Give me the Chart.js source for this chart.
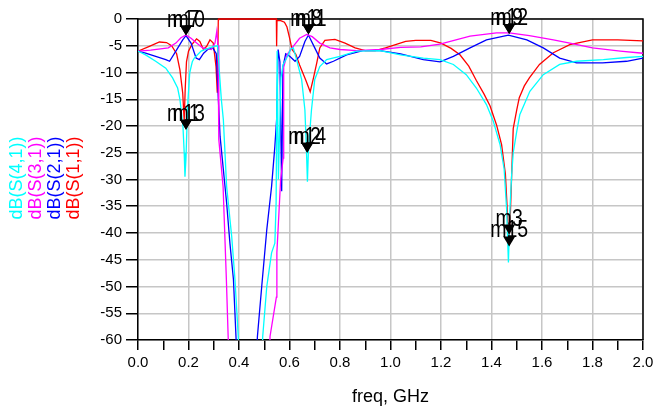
<!DOCTYPE html>
<html>
<head>
<meta charset="utf-8">
<script src="https://cdn.jsdelivr.net/npm/chart.js@4.4.1/dist/chart.umd.min.js"></script>
<style>
html,body{margin:0;padding:0;background:#fff;}
#wrap{width:653px;height:411px;}
</style>
</head>
<body>
<div id="wrap"><canvas id="c" width="653" height="411"></canvas></div>
<script>
// ---- data ----
const s11Freq = [0,0.045,0.085,0.113,0.133,0.153,0.166,0.177,0.183,0.187,0.192,0.2,0.213,0.232,0.245,0.259,0.272,0.285,0.298,0.309,0.314,0.318,0.32,0.548,0.549,0.5505,0.565,0.58,0.59,0.6,0.61,0.625,0.64,0.665,0.682,0.695,0.708,0.72,0.74,0.78,0.82,0.86,0.9,0.94,0.98,1.02,1.06,1.1,1.16,1.2,1.24,1.275,1.31,1.34,1.37,1.394,1.42,1.44,1.455,1.465,1.47,1.475,1.486,1.5,1.51,1.53,1.55,1.59,1.645,1.71,1.8,1.9,2.0];
const s11Db   = [-6.0,-5.1,-4.3,-4.4,-5.0,-6.5,-9.5,-13.8,-19,-13,-8,-6,-4.8,-3.7,-4.2,-5.7,-5.1,-3.9,-4.5,-8.9,-13.8,-0.1,0,0,-5.1,-0.3,-0.3,-0.6,-1.5,-3.5,-5.7,-6.6,-8.6,-11.5,-13.6,-11,-8.2,-5.4,-4.0,-3.8,-4.5,-5.4,-5.9,-5.9,-5.4,-4.8,-4.2,-4.0,-4.0,-4.5,-5.5,-6.7,-8.8,-11.5,-14,-16.2,-19.8,-23.5,-29,-38,-41,-36,-20.5,-17,-14.7,-12.5,-11,-8.5,-6.3,-4.8,-3.9,-3.9,-4.1];

const s21Freq = [0,0.03,0.07,0.11,0.125,0.15,0.177,0.19,0.21,0.23,0.243,0.26,0.276,0.296,0.31,0.325,0.351,0.364,0.378,0.388,0.398,0.463,0.473,0.49,0.51,0.529,0.542,0.549,0.555,0.562,0.569,0.574,0.585,0.602,0.622,0.64,0.661,0.675,0.70,0.72,0.747,0.774,0.826,0.89,0.958,1.04,1.13,1.196,1.249,1.315,1.38,1.467,1.54,1.605,1.67,1.737,1.84,1.935,2.0];
const s21Db   = [-6.0,-6.4,-7.0,-7.6,-7.9,-6.0,-3.9,-3.1,-4.5,-7.3,-7.6,-6.4,-5.7,-5.4,-6.5,-21.9,-34.4,-41.9,-48.7,-59.3,-70,-70,-59.3,-50,-39.4,-31.3,-23.8,-18.8,-5.7,-8,-32.2,-9,-6.5,-7,-7.9,-7,-4.2,-3.0,-5.4,-7.3,-8.4,-7.9,-6.7,-5.9,-5.9,-6.5,-7.6,-8.0,-7.0,-5.4,-3.9,-3.0,-3.9,-5.4,-7.3,-8.2,-8.2,-7.9,-7.3];

const s31Freq = [0,0.05,0.12,0.15,0.17,0.19,0.21,0.23,0.256,0.29,0.305,0.312,0.317,0.32,0.337,0.35,0.357,0.365,0.515,0.523,0.548,0.55,0.565,0.575,0.577,0.59,0.61,0.64,0.668,0.69,0.72,0.76,0.80,0.866,0.96,1.04,1.12,1.196,1.315,1.42,1.47,1.55,1.645,1.71,1.80,1.91,2.0];
const s31Db   = [-6.0,-5.8,-5.4,-4.5,-3.5,-3.0,-3.6,-4.4,-5.4,-5.7,-4.5,-2.3,-5,-22.5,-31.3,-48.7,-59.3,-70,-70,-59.3,-52,-43.7,-30,-26,-9,-6.7,-5.4,-3.6,-2.9,-3.3,-4.5,-5.4,-5.7,-5.9,-5.7,-5.3,-5.2,-4.7,-3.2,-2.6,-2.6,-3.1,-3.9,-4.5,-5.4,-6.0,-6.4];

const s41Freq = [0,0.03,0.07,0.11,0.137,0.157,0.166,0.178,0.183,0.186,0.19,0.194,0.198,0.205,0.215,0.223,0.25,0.283,0.302,0.315,0.33,0.338,0.351,0.371,0.384,0.397,0.405,0.485,0.494,0.51,0.529,0.542,0.547,0.551,0.556,0.566,0.575,0.589,0.605,0.615,0.628,0.648,0.661,0.667,0.671,0.675,0.687,0.70,0.72,0.747,0.80,0.866,0.958,1.04,1.13,1.196,1.249,1.30,1.34,1.38,1.407,1.434,1.45,1.46,1.467,1.473,1.48,1.486,1.50,1.512,1.552,1.605,1.67,1.737,1.843,1.935,2.0];
const s41Db   = [-6.0,-6.7,-7.9,-9.2,-11,-12.9,-15,-20,-25,-29.5,-26,-20,-15,-10,-8,-7.3,-6.0,-5.4,-5.1,-5.0,-15,-18.8,-31.3,-40.6,-48.7,-59.3,-70,-70,-59.3,-50,-43.7,-41.9,-34.4,-6,-30,-11,-8.5,-7.3,-5.6,-5.4,-7.6,-11.3,-17,-24.4,-30.4,-24.4,-17,-11.3,-8.9,-7.6,-7.0,-6.0,-5.9,-6.7,-7.3,-7.6,-8.5,-10.4,-12.9,-16,-19.1,-23.5,-28,-35.6,-45.5,-35.6,-29,-25,-21,-17.9,-13.5,-10.4,-8.5,-7.9,-7.6,-7.2,-7.0];

const seriesNames  = ['dB(S(4,1))','dB(S(3,1))','dB(S(2,1))','dB(S(1,1))'];
const seriesColors = ['#00ffff','#ff00ff','#0000ff','#ff0000'];

// markers: frequency (GHz), value (dB), label
const markerFreq  = [0.19,0.19,0.675,0.675,1.47,1.47,0.19,0.19,0.67,0.67,1.47,1.47];
const markerDb    = [-3.1,-3.1,-2.9,-2.9,-2.8,-2.8,-20.7,-20.7,-25,-25,-40.3,-42.5];
const markerLabel = ['m10','m7','m11','m8','m12','m9','m13','m1','m14','m2','m3','m15'];

const xTickMin = 0, xTickMax = 2, xStep = 0.1;
const yTickMin = -60, yTickMax = 0, yStep = 5;

// ---- build ----
function pts(f, d){ return f.map((v,i)=>({x:v,y:d[i]})); }
const seriesData = [pts(s41Freq,s41Db), pts(s31Freq,s31Db), pts(s21Freq,s21Db), pts(s11Freq,s11Db)];

const FONT = "'Liberation Sans', Arial, sans-serif";
const GRID = '#c6c6c6';

const framePlugin = {
  id:'frame',
  beforeDatasetsDraw(chart){
    const {ctx, chartArea:a} = chart;
    ctx.save();
    ctx.strokeStyle = '#000';
    ctx.lineWidth = 1.5;
    ctx.beginPath();
    ctx.moveTo(a.left, a.top); ctx.lineTo(a.right, a.top); ctx.lineTo(a.right, a.bottom);
    ctx.stroke();
    ctx.restore();
  }
};

const legendPlugin = {
  id:'sideLegend',
  afterDraw(chart){
    const ctx = chart.ctx;
    const xs = [17.5, 36, 55, 74];
    ctx.save();
    ctx.font = '18px ' + FONT;
    ctx.textAlign = 'center';
    ctx.textBaseline = 'middle';
    seriesNames.forEach((n,i)=>{
      ctx.save();
      ctx.translate(xs[i], 178);
      ctx.rotate(-Math.PI/2);
      ctx.fillStyle = seriesColors[i];
      ctx.fillText(n, 0, 0);
      ctx.restore();
    });
    ctx.restore();
  }
};

const markerPlugin = {
  id:'markers',
  afterDatasetsDraw(chart){
    const ctx = chart.ctx, xs = chart.scales.x, ys = chart.scales.y;
    ctx.save();
    ctx.fillStyle = '#000';
    ctx.font = '23px ' + FONT;
    ctx.textAlign = 'center';
    ctx.textBaseline = 'alphabetic';
    markerFreq.forEach((f,i)=>{
      const px = xs.getPixelForValue(f), py = ys.getPixelForValue(markerDb[i]);
      ctx.beginPath();
      ctx.moveTo(px, py);
      ctx.lineTo(px-6, py-10);
      ctx.lineTo(px+6, py-10);
      ctx.closePath();
      ctx.fill();
      ctx.save();
      ctx.translate(px, py-9);
      ctx.scale(0.85, 1);
      ctx.fillText(markerLabel[i], 0, 0);
      ctx.restore();
    });
    ctx.restore();
  }
};

new Chart(document.getElementById('c'), {
  type:'scatter',
  data:{
    datasets: seriesData.map((d,i)=>({
      label: seriesNames[i],
      data: d,
      showLine: true,
      borderColor: seriesColors[i],
      backgroundColor: seriesColors[i],
      borderWidth: 1.3,
      pointRadius: 0,
      tension: 0,
      clip: {left:0, right:0, top:3, bottom:0}
    }))
  },
  options:{
    responsive:false,
    animation:false,
    events:[],
    layout:{padding:{left:85,right:10,top:19,bottom:0}},
    plugins:{legend:{display:false},tooltip:{enabled:false}},
    scales:{
      x:{
        type:'linear', min:xTickMin, max:xTickMax,
        afterFit(s){ s.height = 71; s.paddingRight = 0; s.paddingLeft = 0; },
        ticks:{
          stepSize:xStep, autoSkip:false, maxRotation:0, padding:4,
          color:'#000', font:{family:FONT, size:15},
          callback:(v)=> (Math.round(v*10)%2===0) ? Number(v).toFixed(1) : ''
        },
        grid:{
          color:(c)=> (c.tick && Math.round(c.tick.value*10)%2===0) ? GRID : 'rgba(0,0,0,0)',
          lineWidth:1.5, tickColor:'#000', tickLength:10, drawTicks:true
        },
        border:{display:true, color:'#000', width:1.5},
        title:{display:true, text:'freq, GHz', color:'#000', font:{family:FONT, size:18}, padding:{top:0,bottom:3}}
      },
      y:{
        type:'linear', min:yTickMin, max:yTickMax,
        afterFit(s){ s.width = 53; s.paddingTop = 0; s.paddingBottom = 0; },
        ticks:{stepSize:yStep, padding:4, color:'#000', font:{family:FONT, size:15}},
        grid:{color:GRID, lineWidth:1.5, tickColor:'#000', tickLength:12},
        border:{display:true, color:'#000', width:1.5}
      }
    }
  },
  plugins:[framePlugin, legendPlugin, markerPlugin]
});
</script>
</body>
</html>
